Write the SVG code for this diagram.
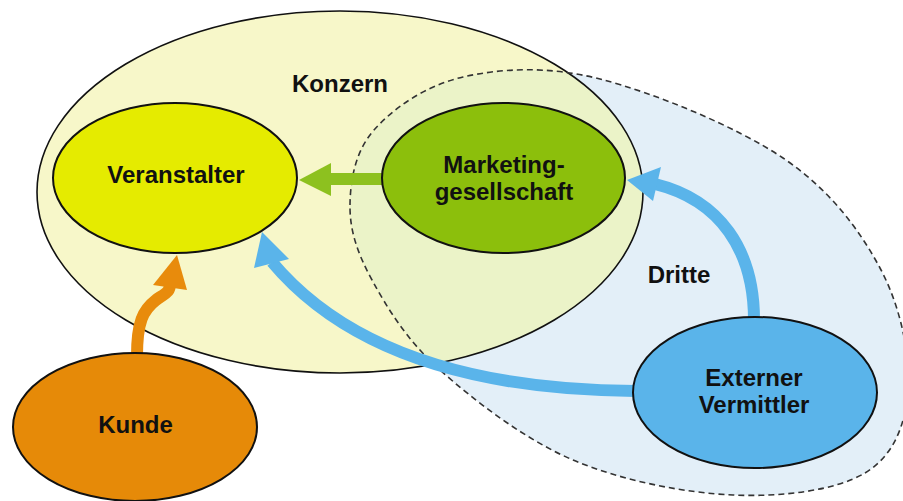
<svg xmlns="http://www.w3.org/2000/svg" width="903" height="501" viewBox="0 0 903 501">
  <style>
    .lbl { font-family: "Liberation Sans", Arial, sans-serif; font-weight: bold; font-size: 24px; fill: #111; text-anchor: middle; }
    .node { stroke: #111; stroke-width: 2; }
    .shaft { fill: none; stroke-width: 12; stroke-linecap: butt; }
  </style>
  <defs>
    <path id="dritteShape" d="M350,205 C350.3,180 355.2,151.3 374,130 C392.8,108.7 425.3,85.5 463,77 C500.7,68.5 546.7,65.5 600,79 C653.3,92.5 736.3,126.5 783,158 C829.7,189.5 859.2,229.3 880,268 C900.8,306.7 910.5,355.8 908,390 C905.5,424.2 894.2,455.5 865,473 C835.8,490.5 781.7,497.2 733,495 C684.3,492.8 621.8,480.8 573,460 C524.2,439.2 473.5,400 440,370 C406.5,340 387,307.5 372,280 C357,252.5 349.7,230 350,205 Z"/>
    <clipPath id="konzernClip">
      <ellipse cx="340" cy="192" rx="303" ry="181"/>
    </clipPath>
  </defs>

  <rect width="903" height="501" fill="#ffffff"/>

  <g id="dritte-background">
    <use href="#dritteShape" fill="#e3eff8"/>
  </g>

  <g id="konzern">
    <ellipse cx="340" cy="192" rx="303" ry="181" fill="#f7f7c9"/>
    <use href="#dritteShape" fill="#ebf3c8" clip-path="url(#konzernClip)"/>
    <ellipse cx="340" cy="192" rx="303" ry="181" fill="none" stroke="#111" stroke-width="1.6"/>
    <text class="lbl" x="340" y="92">Konzern</text>
  </g>

  <g id="dritte">
    <use href="#dritteShape" fill="none" stroke="#333" stroke-width="1.6" stroke-dasharray="6 4"/>
    <text class="lbl" x="679" y="283">Dritte</text>
  </g>

  <g id="connectors">
    <!-- Marketinggesellschaft -> Veranstalter -->
    <line class="shaft" x1="384" y1="179" x2="328" y2="179" stroke="#8dc11f"/>
    <polygon points="299,180 331,163 331,196" fill="#8dc11f"/>
    <!-- Kunde -> Veranstalter -->
    <path class="shaft" d="M137,356 C137,322 143,310 156,300 C166,293 170,292 170,284" stroke="#e88b0c"/>
    <polygon points="177,255 153,285 187,290" fill="#e88b0c"/>
    <!-- Externer Vermittler -> Marketinggesellschaft -->
    <path class="shaft" d="M754,320 C754,250 720,200 655,184" stroke="#5ab4ea"/>
    <polygon points="627,180 661,167 653,201" fill="#5ab4ea"/>
    <!-- Externer Vermittler -> Veranstalter -->
    <path class="shaft" d="M635,391 C480,390 350,355 272,262" stroke="#5ab4ea"/>
    <polygon points="262,232 254,268 289,259" fill="#5ab4ea"/>
  </g>

  <g id="veranstalter">
    <ellipse class="node" cx="175" cy="178" rx="122" ry="75" fill="#e5eb00"/>
    <text class="lbl" x="176" y="183">Veranstalter</text>
  </g>

  <g id="marketinggesellschaft">
    <ellipse class="node" cx="503.5" cy="178" rx="121.5" ry="75" fill="#8cbf0c"/>
    <text class="lbl" x="504" y="173">Marketing-</text>
    <text class="lbl" x="504" y="200">gesellschaft</text>
  </g>

  <g id="kunde">
    <ellipse class="node" cx="135" cy="427" rx="122" ry="74" fill="#e68a08"/>
    <text class="lbl" x="135.5" y="433">Kunde</text>
  </g>

  <g id="externer-vermittler">
    <ellipse class="node" cx="755" cy="392.5" rx="122" ry="75.5" fill="#5ab4ea"/>
    <text class="lbl" x="754" y="386">Externer</text>
    <text class="lbl" x="754" y="413">Vermittler</text>
  </g>
</svg>
